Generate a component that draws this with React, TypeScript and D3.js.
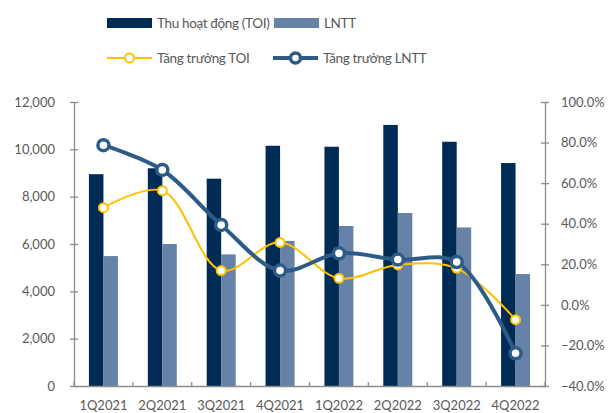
import React, { useEffect, useRef } from "react";
import * as d3 from "d3";

const quarters = ["1Q2021", "2Q2021", "3Q2021", "4Q2021", "1Q2022", "2Q2022", "3Q2022", "4Q2022"];
const toi = [8950, 9200, 8760, 10150, 10110, 11030, 10320, 9420];
const lntt = [5490, 6000, 5560, 6130, 6760, 7310, 6700, 4730];
const toiGrowth = [47.9, 56.3, 16.9, 30.8, 13.1, 19.7, 18.0, -7.3];
const lnttGrowth = [78.7, 66.5, 39.4, 16.9, 25.4, 22.3, 21.1, -23.9];
const leftTicks = [0, 2000, 4000, 6000, 8000, 10000, 12000];
const rightTicks = [-40, -20, 0, 20, 40, 60, 80, 100];

const C_TOI = "#002b55";
const C_LNTT = "#6682a7";
const C_TOI_G = "#ffc000";
const C_LNTT_G = "#2d5b88";
const AXIS = "#8c8c8c";
const TEXT = "#595959";
const FONT = "Lato, 'Noto Sans', sans-serif";

const App = () => {
  const svgRef = useRef<SVGSVGElement>(null);

  useEffect(() => {
    const width = 608;
    const height = 413;
    const margin = { top: 102, right: 63, bottom: 27, left: 74 };

    const svg = d3.select(svgRef.current);
    svg.selectAll("*").remove();

    const x = d3
      .scaleBand()
      .domain(quarters)
      .range([margin.left, width - margin.right]);
    const yL = d3.scaleLinear().domain([0, 12000]).range([height - margin.bottom, margin.top]);
    const yR = d3.scaleLinear().domain([-40, 100]).range([height - margin.bottom, margin.top]);

    const barW = 14.5;

    // bars
    svg
      .append("g")
      .selectAll("rect")
      .data(toi)
      .join("rect")
      .attr("x", (d, i) => x(quarters[i])! + x.bandwidth() / 2 - barW)
      .attr("y", (d) => yL(d))
      .attr("width", barW)
      .attr("height", (d) => yL(0) - yL(d))
      .attr("fill", C_TOI);

    svg
      .append("g")
      .selectAll("rect")
      .data(lntt)
      .join("rect")
      .attr("x", (d, i) => x(quarters[i])! + x.bandwidth() / 2)
      .attr("y", (d) => yL(d))
      .attr("width", barW)
      .attr("height", (d) => yL(0) - yL(d))
      .attr("fill", C_LNTT);

    // axes
    const styleAxis = (g: any) => {
      g.select(".domain").attr("stroke", AXIS).attr("stroke-width", 1.3);
      g.selectAll(".tick line").attr("stroke", AXIS).attr("stroke-width", 1.3);
      g.selectAll("text").attr("fill", TEXT).attr("font-size", 13).attr("font-family", FONT);
    };

    const left = svg
      .append("g")
      .attr("transform", `translate(${margin.left},0)`)
      .call(
        d3
          .axisLeft(yL)
          .tickValues(leftTicks)
          .tickSize(4)
          .tickSizeOuter(0)
          .tickPadding(15)
          .tickFormat(d3.format(","))
      );
    left.selectAll(".tick line").attr("x2", 4).attr("x1", -4);
    styleAxis(left);

    const right = svg
      .append("g")
      .attr("transform", `translate(${width - margin.right},0)`)
      .call(
        d3
          .axisRight(yR)
          .tickValues(rightTicks)
          .tickSize(4)
          .tickSizeOuter(0)
          .tickPadding(12)
          .tickFormat((d: any) => d3.format(".1f")(d) + "%")
      );
    right.selectAll(".tick line").attr("x1", -4).attr("x2", 4);
    styleAxis(right);

    const bottom = svg
      .append("g")
      .attr("transform", `translate(0,${height - margin.bottom})`)
      .call(d3.axisBottom(x).tickSize(0).tickPadding(15).tickSizeOuter(0));
    styleAxis(bottom);
    bottom
      .selectAll(".sep")
      .data(d3.range(quarters.length + 1))
      .join("line")
      .attr("x1", (i) => margin.left + i * x.bandwidth())
      .attr("x2", (i) => margin.left + i * x.bandwidth())
      .attr("y1", 0)
      .attr("y2", -4)
      .attr("stroke", AXIS)
      .attr("stroke-width", 1.3);

    // growth lines
    const cx = (i: number) => x(quarters[i])! + x.bandwidth() / 2;
    const line = d3
      .line<number>()
      .x((d, i) => cx(i))
      .y((d) => yR(d))
      .curve(d3.curveCatmullRom.alpha(0.5));

    svg
      .append("path")
      .datum(toiGrowth)
      .attr("d", line)
      .attr("fill", "none")
      .attr("stroke", C_TOI_G)
      .attr("stroke-width", 2);

    svg
      .append("path")
      .datum(lnttGrowth)
      .attr("d", line)
      .attr("fill", "none")
      .attr("stroke", C_LNTT_G)
      .attr("stroke-width", 4);

    svg
      .append("g")
      .selectAll("circle")
      .data(toiGrowth)
      .join("circle")
      .attr("cx", (d, i) => cx(i))
      .attr("cy", (d) => yR(d))
      .attr("r", 4.5)
      .attr("fill", "#fff")
      .attr("stroke", C_TOI_G)
      .attr("stroke-width", 2);

    svg
      .append("g")
      .selectAll("circle")
      .data(lnttGrowth)
      .join("circle")
      .attr("cx", (d, i) => cx(i))
      .attr("cy", (d) => yR(d))
      .attr("r", 5.5)
      .attr("fill", "#fff")
      .attr("stroke", C_LNTT_G)
      .attr("stroke-width", 3.5);

    // legend
    const legend = svg
      .append("g")
      .attr("font-family", FONT)
      .attr("font-size", 13.5)
      .attr("letter-spacing", -0.35)
      .attr("fill", TEXT);
    const items = [
      { label: "Thu hoạt động (TOI)", color: C_TOI, type: "bar", x: 107, y: 23 },
      { label: "LNTT", color: C_LNTT, type: "bar", x: 274, y: 23 },
      { label: "Tăng trưởng TOI", color: C_TOI_G, type: "line", x: 107, y: 58 },
      { label: "Tăng trưởng LNTT", color: C_LNTT_G, type: "lineThick", x: 273, y: 58 },
    ];
    items.forEach((it) => {
      const g = legend.append("g").attr("transform", `translate(${it.x},${it.y})`);
      if (it.type === "bar") {
        g.append("rect").attr("x", 0).attr("y", -5).attr("width", 45).attr("height", 10).attr("fill", it.color);
      } else {
        const thick = it.type === "lineThick";
        g.append("line")
          .attr("x1", 0)
          .attr("x2", 45)
          .attr("stroke", it.color)
          .attr("stroke-width", thick ? 4 : 2);
        g.append("circle")
          .attr("cx", 22.5)
          .attr("r", thick ? 5 : 4.5)
          .attr("fill", "#fff")
          .attr("stroke", it.color)
          .attr("stroke-width", thick ? 3.5 : 2);
      }
      g.append("text").attr("x", 50).attr("dy", "0.35em").text(it.label);
    });
  }, []);

  return (
    <svg
      ref={svgRef}
      width={608}
      height={413}
      style={{ position: "absolute", left: 0, top: 0, background: "#fff" }}
    />
  );
};

export default App;
